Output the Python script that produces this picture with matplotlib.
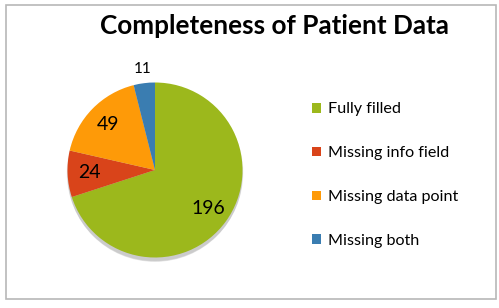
import numpy as np
import matplotlib
matplotlib.use("Agg")
import matplotlib.pyplot as plt
from matplotlib.patches import Rectangle, Patch, Circle

plt.rcParams['font.family'] = ['Lato', 'DejaVu Sans']

categories = ["Fully filled", "Missing info field", "Missing data point", "Missing both"]
counts = [196, 24, 49, 11]
colors = ["#9cb81c", "#d9441a", "#fe9a08", "#3a7db1"]

W, H = 499, 308
fig = plt.figure(figsize=(W / 100, H / 100), dpi=100)

# chart border
fig.patches.append(Rectangle((6 / W, 9 / H), 490 / W, 294 / H, transform=fig.transFigure,
                             fill=False, edgecolor="#b8b8b8", lw=1.2))

fig.text(274 / W, 1 - 26 / H, "Completeness of Patient Data", ha="center", va="center",
         fontsize=18.8, fontweight="bold")

# pie axes: center (155,170), radius ~87.5 px
cx, cy, r = 155, 170, 87.5
half = 100
ax = fig.add_axes([(cx - half) / W, (H - cy - half) / H, 2 * half / W, 2 * half / H])
lim = half / r
ax.set_aspect("equal")
ax.axis("off")

# soft shadow
for i, a in enumerate([0.05, 0.07, 0.09]):
    ax.add_patch(Circle((0.0, -0.03 - 0.01 * i), 1.0 + 0.005 * (2 - i), color="black", alpha=a, lw=0))

wedges, _ = ax.pie(counts, colors=colors, startangle=90, counterclock=False, radius=1,
                   wedgeprops=dict(linewidth=0), center=(0, 0), frame=False)
ax.set_xlim(-lim, lim)
ax.set_ylim(-lim, lim)

for w, n in zip(wedges, counts):
    ang = np.deg2rad((w.theta1 + w.theta2) / 2)
    if n < 20:
        d, fs = 1.16, 11
    else:
        d, fs = 0.75, 14
    ax.text(d * np.cos(ang), d * np.sin(ang), str(n), ha="center", va="center", fontsize=fs)

handles = [Patch(facecolor=c, edgecolor="none") for c in colors]
fig.legend(handles, categories, loc="upper left", bbox_to_anchor=(306 / W, 1 - 96 / H),
           frameon=False, fontsize=11.6, handlelength=0.55, handleheight=0.55,
           handletextpad=0.4, labelspacing=1.85, borderaxespad=0)

fig.savefig("out.png", dpi=100)
